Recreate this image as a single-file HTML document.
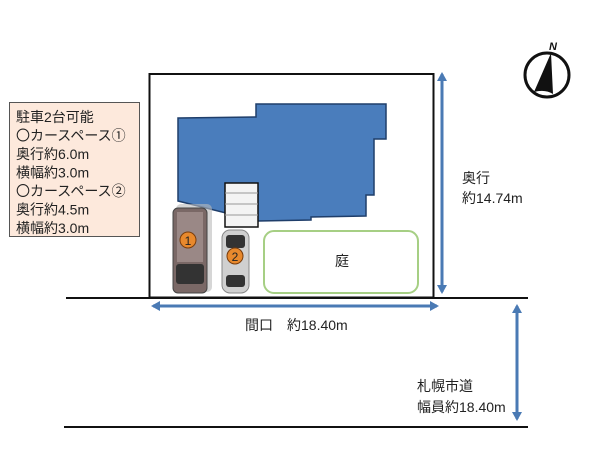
<!DOCTYPE html>
<html><head><meta charset="utf-8"><style>
html,body{margin:0;padding:0;background:#fff;}
svg{display:block;font-family:"Liberation Sans","Noto Sans CJK JP",sans-serif;}
</style></head><body>
<svg width="600" height="450" viewBox="0 0 600 450" xmlns="http://www.w3.org/2000/svg">
<defs>
<marker id="ah" markerWidth="10" markerHeight="10" refX="7" refY="5" orient="auto-start-reverse" markerUnits="userSpaceOnUse">
<path d="M0,0 L9,5 L0,10 Z" fill="#4a7ab4"/></marker>
</defs>
<rect x="0" y="0" width="600" height="450" fill="#fff"/>
<!-- info box -->
<rect x="9.5" y="102.5" width="130" height="134" fill="#fde9dc" stroke="#555" stroke-width="1"/>
<g font-size="14" fill="#222">
<text x="16" y="122">駐車2台可能</text>
<text x="16" y="140.5">〇カースペース①</text>
<text x="16" y="159">奥行約6.0m</text>
<text x="16" y="177.5">横幅約3.0m</text>
<text x="16" y="196">〇カースペース②</text>
<text x="16" y="214.5">奥行約4.5m</text>
<text x="16" y="233">横幅約3.0m</text>
</g>
<!-- lot -->
<rect x="149.5" y="74" width="284" height="223.5" fill="#fff" stroke="#111" stroke-width="2"/>
<!-- building -->
<polygon points="178,118 256,117 256,104 386,104 386,139 374,139 374,195 366,195 366,216 311,217 311,220 258,221 178,201" fill="#4a7dbc" stroke="#1f3e6a" stroke-width="1.5"/>
<!-- stairs -->
<rect x="225" y="183" width="33" height="44" fill="#f4f4f4" stroke="#111" stroke-width="1.5"/>
<line x1="225" y1="193" x2="258" y2="193" stroke="#999"/>
<line x1="225" y1="204" x2="258" y2="204" stroke="#999"/>
<line x1="225" y1="215" x2="258" y2="215" stroke="#999"/>
<!-- car1 -->
<rect x="176" y="204" width="36" height="88" rx="5" fill="#bbb" opacity="0.6"/>
<rect x="173" y="208" width="34" height="85" rx="5" fill="#7a6866" stroke="#444"/>
<rect x="177" y="212" width="26" height="50" fill="#9a8886"/>
<rect x="176" y="264" width="28" height="20" rx="3" fill="#333"/>
<circle cx="188" cy="240" r="8" fill="#e8892d" stroke="#7a3d0c"/>
<text x="188" y="245" font-size="12" text-anchor="middle" fill="#222">1</text>
<!-- car2 -->
<rect x="222" y="230" width="27" height="63" rx="8" fill="#d0d0d0" stroke="#888"/>
<rect x="226" y="235" width="19" height="13" rx="3" fill="#333"/>
<rect x="226" y="275" width="19" height="12" rx="3" fill="#333"/>
<circle cx="235" cy="256" r="8" fill="#e8892d" stroke="#7a3d0c"/>
<text x="235" y="261" font-size="12" text-anchor="middle" fill="#222">2</text>
<!-- garden -->
<rect x="264" y="231" width="154" height="62" rx="10" fill="#fff" stroke="#a6cf84" stroke-width="2"/>
<text x="342" y="266" font-size="14" text-anchor="middle" fill="#222">庭</text>
<!-- ground lines -->
<line x1="66" y1="298" x2="528" y2="298" stroke="#111" stroke-width="2"/>
<line x1="64" y1="427" x2="528" y2="427" stroke="#111" stroke-width="2"/>
<!-- arrows -->
<line x1="442" y1="74" x2="442" y2="292" stroke="#4a7ab4" stroke-width="3" marker-start="url(#ah)" marker-end="url(#ah)"/>
<line x1="153" y1="306" x2="437" y2="306" stroke="#4a7ab4" stroke-width="3" marker-start="url(#ah)" marker-end="url(#ah)"/>
<line x1="517" y1="306" x2="517" y2="419" stroke="#4a7ab4" stroke-width="3" marker-start="url(#ah)" marker-end="url(#ah)"/>
<!-- labels -->
<g font-size="14" fill="#222">
<text x="462" y="183">奥行</text>
<text x="462" y="203">約14.74m</text>
<text x="245" y="330">間口　約18.40m</text>
<text x="417" y="391">札幌市道</text>
<text x="417" y="412">幅員約18.40m</text>
</g>
<!-- compass -->
<circle cx="547" cy="75" r="22" fill="none" stroke="#111" stroke-width="3"/>
<path d="M551,53 L534,92 Q545,89 553,94 Z" fill="#111"/>
<text x="553" y="50" font-size="11" font-style="italic" font-weight="bold" text-anchor="middle" fill="#111">N</text>
</svg>
</body></html>
